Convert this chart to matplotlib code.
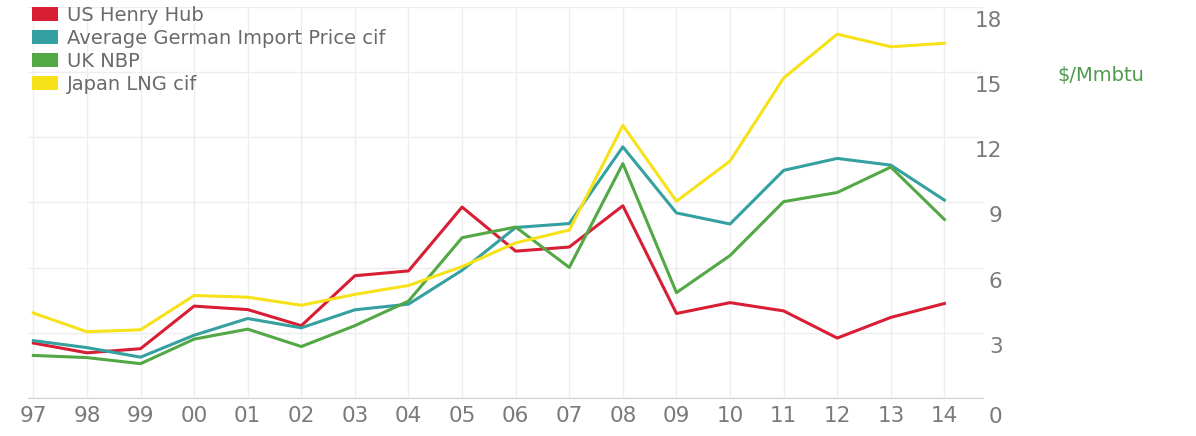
import numpy as np
import matplotlib.pyplot as plt
from matplotlib.patches import Patch
from matplotlib.transforms import ScaledTranslation

# wide sans, the source text looks horizontally stretched
plt.rcParams['font.family'] = ['DejaVu Sans']

years = ['97', '98', '99', '00', '01', '02', '03', '04', '05',
         '06', '07', '08', '09', '10', '11', '12', '13', '14']
us_henry_hub = [2.53, 2.08, 2.27, 4.23, 4.07, 3.33, 5.63, 5.85, 8.79,
                6.76, 6.95, 8.85, 3.89, 4.39, 4.01, 2.76, 3.71, 4.35]
german_import = [2.64, 2.32, 1.88, 2.89, 3.66, 3.23, 4.06, 4.32, 5.88,
                 7.85, 8.03, 11.56, 8.52, 8.01, 10.48, 11.03, 10.72, 9.11]
uk_nbp = [1.96, 1.86, 1.58, 2.71, 3.17, 2.37, 3.33, 4.46, 7.38,
          7.87, 6.01, 10.79, 4.85, 6.56, 9.04, 9.46, 10.63, 8.22]
japan_lng = [3.91, 3.05, 3.14, 4.72, 4.64, 4.27, 4.77, 5.18, 6.05,
             7.14, 7.73, 12.55, 9.06, 10.91, 14.73, 16.75, 16.17, 16.33]

series = [
    ('US Henry Hub', us_henry_hub, '#d81e34'),
    ('Average German Import Price cif', german_import, '#35a0a0'),
    ('UK NBP', uk_nbp, '#52a844'),
    ('Japan LNG cif', japan_lng, '#f7e21a'),
]
yticks = [0, 3, 6, 9, 12, 15, 18]

fig = plt.figure(figsize=(11.96, 4.36), dpi=100)
ax = fig.add_axes([28/1196, 1 - 398/436, (983 - 28)/1196, (398 - 7)/436])

x = np.arange(len(years))
for label, vals, color in series:
    ax.plot(x, vals, color=color, lw=2.2)

ax.set_xlim(-0.1, 17.72)
ax.set_ylim(0, 18)
ax.set_xticks(x)
ax.set_xticklabels(years)
ax.set_yticks(yticks)
ax.set_yticklabels([str(v) for v in yticks])
ax.yaxis.tick_right()
ax.tick_params(axis='x', length=0, pad=6, labelsize=15.5, labelcolor='#7a7a7a')
ax.tick_params(axis='y', length=0, pad=14, labelsize=15.5, labelcolor='#7a7a7a')
for lbl in ax.get_yticklabels():
    lbl.set_horizontalalignment('right')
    dy = -17 if lbl.get_text() == '0' else -12
    lbl.set_transform(lbl.get_transform() + ScaledTranslation(0, dy/100, fig.dpi_scale_trans))

ax.grid(True, color='#eeeeee', lw=1)
ax.set_axisbelow(True)
for s in ['top', 'left', 'right']:
    ax.spines[s].set_visible(False)
ax.spines['bottom'].set_color('#d0d0d0')

handles = [Patch(facecolor=c, edgecolor='none', label=l) for l, _, c in series]
leg = fig.legend(handles=handles, loc='upper left', bbox_to_anchor=(32/1196, 1 - 6/436),
                 frameon=False, fontsize=14, handlelength=1.35, handleheight=0.75,
                 handletextpad=0.45, labelspacing=0.2, borderaxespad=0, borderpad=0)
for t in leg.get_texts():
    t.set_color('#6a6a6a')

fig.text(1057/1196, 1 - 75/436, '$/Mmbtu', color='#4f9a4f', fontsize=14, va='center', ha='left')

fig.savefig('out.png', dpi=100)
